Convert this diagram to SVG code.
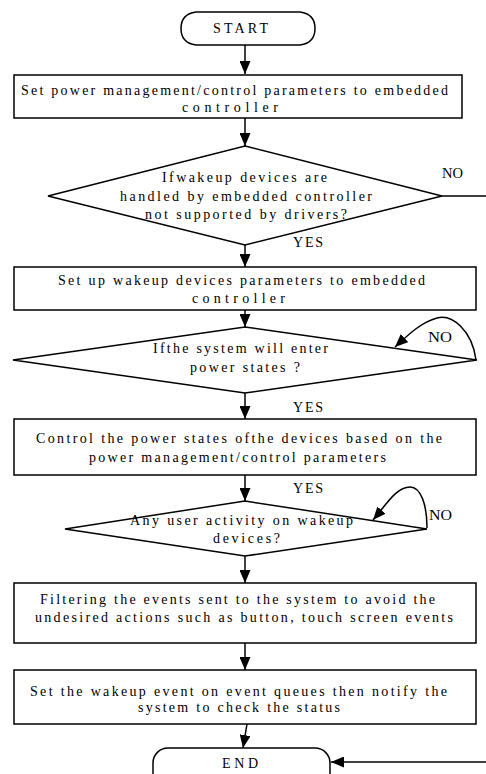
<svg xmlns="http://www.w3.org/2000/svg" width="486" height="774" viewBox="0 0 486 774">
<style>
.s{fill:#fff;stroke:#000;stroke-width:1.5}
.t{font-family:"Liberation Serif","Times New Roman",serif;font-size:14px;fill:#000}
.c{fill:none;stroke:#000;stroke-width:1.5}
</style>
<defs>
<marker id="ah" markerUnits="userSpaceOnUse" markerWidth="13" markerHeight="11" refX="13" refY="5.5" orient="auto">
<path d="M0,0 L13,5.5 L0,11 Z" fill="#000"/>
</marker>
</defs>
<rect width="486" height="774" fill="#fff"/>
<g id="connectors">
<line class="c" x1="245" y1="45" x2="245" y2="74" marker-end="url(#ah)"/>
<line class="c" x1="245" y1="118" x2="245" y2="146" marker-end="url(#ah)"/>
<line class="c" x1="245" y1="245" x2="245" y2="267" marker-end="url(#ah)"/>
<line class="c" x1="245" y1="310" x2="245" y2="327" marker-end="url(#ah)"/>
<line class="c" x1="245" y1="393" x2="245" y2="419" marker-end="url(#ah)"/>
<line class="c" x1="245" y1="475" x2="245" y2="501" marker-end="url(#ah)"/>
<line class="c" x1="245" y1="556" x2="245" y2="583" marker-end="url(#ah)"/>
<line class="c" x1="245" y1="643" x2="245" y2="670" marker-end="url(#ah)"/>
<line class="c" x1="247" y1="724" x2="243" y2="748" marker-end="url(#ah)"/>
<line class="c" x1="442" y1="196" x2="486" y2="196"/>
<line class="c" x1="486" y1="762" x2="331" y2="762" marker-end="url(#ah)"/>
<path class="c" d="M476 360 C472 330 452 314 437 318 C422 322 410 333 395 347" marker-end="url(#ah)"/>
<path class="c" d="M427 528 C427 505 421 487 410 487 C396 487 386 505 373 520" marker-end="url(#ah)"/>
<text class="t" x="442" y="178" textLength="21" lengthAdjust="spacingAndGlyphs">NO</text>
<text class="t" x="293" y="247" textLength="30">YES</text>
<text class="t" x="428" y="342" textLength="24" lengthAdjust="spacingAndGlyphs">NO</text>
<text class="t" x="293" y="412" textLength="30">YES</text>
<text class="t" x="293" y="493" textLength="30">YES</text>
<text class="t" x="429" y="520" textLength="23" lengthAdjust="spacingAndGlyphs">NO</text>
</g>
<g id="start">
<path class="s" d="M196 12 H300 Q315 14 315 28.5 Q315 43 300 45 H196 Q181 43 181 28.5 Q181 14 196 12 Z"/>
<text class="t" x="213" y="33" textLength="55">START</text>
</g>
<g id="box1">
<rect class="s" x="14" y="75" width="448" height="43"/>
<text class="t" x="21" y="95" textLength="427">Set power management/control parameters to embedded</text>
<text class="t" x="182" y="112" textLength="96">controller</text>
</g>
<g id="dec1">
<polygon class="s" points="245,146 442,196 245,245 48,196"/>
<text class="t" x="162" y="182" textLength="165">Ifwakeup devices are</text>
<text class="t" x="120" y="201" textLength="252">handled by embedded controller</text>
<text class="t" x="145" y="219" textLength="202">not supported by drivers?</text>
</g>
<g id="box2">
<rect class="s" x="14" y="267" width="462" height="43"/>
<text class="t" x="58" y="285" textLength="367">Set up wakeup devices parameters to embedded</text>
<text class="t" x="192" y="303" textLength="93">controller</text>
</g>
<g id="dec2">
<polygon class="s" points="245,327 477,360 245,393 13,360"/>
<text class="t" x="153" y="353" textLength="175">Ifthe system will enter</text>
<text class="t" x="190" y="372" textLength="110">power states ?</text>
</g>
<g id="box3">
<rect class="s" x="14" y="419" width="462" height="56"/>
<text class="t" x="36" y="443" textLength="406">Control the power states ofthe devices based on the</text>
<text class="t" x="89" y="462" textLength="297">power management/control parameters</text>
</g>
<g id="dec3">
<polygon class="s" points="245,501 427,529 245,556 65,529"/>
<text class="t" x="130" y="525" textLength="223">Any user activity on wakeup</text>
<text class="t" x="213" y="543" textLength="67">devices?</text>
</g>
<g id="box4">
<rect class="s" x="14" y="583" width="462" height="60"/>
<text class="t" x="40" y="604" textLength="395">Filtering the events sent to the system to avoid the</text>
<text class="t" x="35" y="622" textLength="418">undesired actions such as button, touch screen events</text>
</g>
<g id="box5">
<rect class="s" x="14" y="670" width="462" height="54"/>
<text class="t" x="30" y="696" textLength="417">Set the wakeup event on event queues then notify the</text>
<text class="t" x="138" y="712" textLength="202">system to check the status</text>
</g>
<g id="end">
<rect class="s" x="153" y="748" width="177" height="40" rx="15"/>
<text class="t" x="222" y="768" textLength="36">END</text>
</g>
</svg>
